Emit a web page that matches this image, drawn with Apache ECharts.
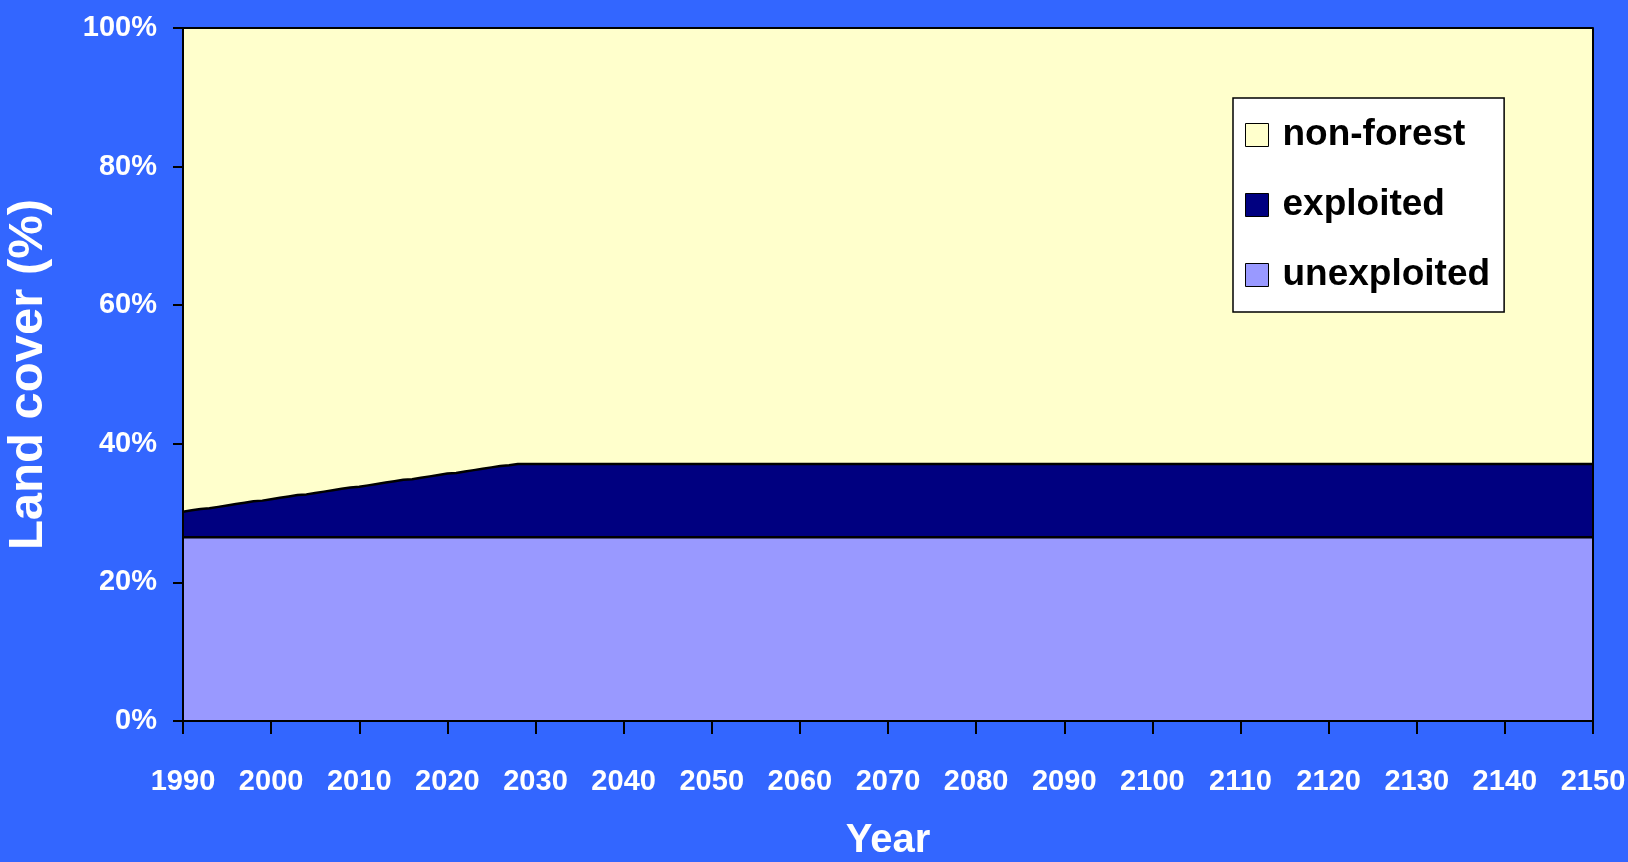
<!DOCTYPE html>
<html>
<head>
<meta charset="utf-8">
<script src="https://cdn.jsdelivr.net/npm/echarts@6/dist/echarts.min.js"></script>
<style>
    html, body { margin: 0; padding: 0; background: #3366ff; }
    #chart { width: 1628px; height: 862px; }
</style>
</head>
<body>
<div id="chart"></div>
<script>

// years sampled, yearly until the exploited share stops growing
const years = [
    1990, 1991, 1992, 1993, 1994, 1995, 1996, 1997, 1998, 1999,
    2000, 2001, 2002, 2003, 2004, 2005, 2006, 2007, 2008, 2009,
    2010, 2011, 2012, 2013, 2014, 2015, 2016, 2017, 2018, 2019,
    2020, 2021, 2022, 2023, 2024, 2025, 2026, 2027, 2028, 2150
];

const unexploited = [
    26.5, 26.5, 26.5, 26.5, 26.5, 26.5, 26.5, 26.5, 26.5, 26.5,
    26.5, 26.5, 26.5, 26.5, 26.5, 26.5, 26.5, 26.5, 26.5, 26.5,
    26.5, 26.5, 26.5, 26.5, 26.5, 26.5, 26.5, 26.5, 26.5, 26.5,
    26.5, 26.5, 26.5, 26.5, 26.5, 26.5, 26.5, 26.5, 26.5, 26.5
];

const exploited = [
    3.7, 3.9, 4.1, 4.2, 4.4, 4.6, 4.8, 5.0, 5.2, 5.3,
    5.5, 5.7, 5.9, 6.1, 6.2, 6.4, 6.6, 6.8, 7.0, 7.2,
    7.3, 7.5, 7.7, 7.9, 8.1, 8.3, 8.4, 8.6, 8.8, 9.0,
    9.2, 9.3, 9.5, 9.7, 9.9, 10.1, 10.3, 10.4, 10.6, 10.6
];

const yearTicks = [1990, 2150, 10];

const chart = echarts.init(document.getElementById('chart'));

// areas are layered instead of stacked: each top is the running total
const exploitedTop = years.map((_, i) => +(unexploited[i] + exploited[i]).toFixed(1));
const nonForestTop = years.map(() => 100);
const pairs = arr => years.map((y, i) => [y, arr[i]]);

const labelFont = {
    color: '#ffffff',
    fontFamily: '"Liberation Sans", Arial, sans-serif',
    fontWeight: 'bold',
    fontSize: 29
};

const option = {
    backgroundColor: '#3366ff',
    animation: false,
    grid: {
        left: 183,
        right: 35,
        top: 28,
        bottom: 141,
        outerBoundsMode: 'none',
        containLabel: false,
        show: false
    },
    legend: {
        orient: 'vertical',
        left: 1233,
        top: 98,
        data: ['non-forest', 'exploited', 'unexploited'],
        icon: 'rect',
        itemWidth: 23,
        itemHeight: 23,
        itemGap: 24,
        padding: [14, 14, 14, 12],
        backgroundColor: '#ffffff',
        borderColor: '#000000',
        borderWidth: 1.5,
        itemStyle: {
            borderColor: '#000000',
            borderWidth: 1
        },
        textStyle: {
            color: '#000000',
            fontFamily: '"Liberation Sans", Arial, sans-serif',
            fontWeight: 'bold',
            fontSize: 37,
            lineHeight: 46,
            padding: [0, 0, 0, 9]
        }
    },
    xAxis: [
        {
            type: 'value',
            min: yearTicks[0],
            max: yearTicks[1],
            interval: yearTicks[2],
            z: 10,
            name: 'Year',
            nameLocation: 'middle',
            nameGap: 100,
            nameTextStyle: {
                color: '#ffffff',
                fontFamily: '"Liberation Sans", Arial, sans-serif',
                fontWeight: 'bold',
                fontSize: 40
            },
            axisLine: { lineStyle: { color: '#000000', width: 2 } },
            axisTick: { length: 13, lineStyle: { color: '#000000', width: 2 } },
            axisLabel: Object.assign({ margin: 46, formatter: v => String(v) }, labelFont),
            splitLine: { show: false }
        },
        {
            type: 'value',
            position: 'top',
            min: yearTicks[0],
            max: yearTicks[1],
            z: 10,
            axisLine: { lineStyle: { color: '#000000', width: 2 } },
            axisTick: { show: false },
            axisLabel: { show: false },
            splitLine: { show: false }
        }
    ],
    yAxis: [
        {
            type: 'value',
            min: 0,
            max: 100,
            interval: 20,
            z: 10,
            name: 'Land cover (%)',
            nameLocation: 'middle',
            nameRotate: 90,
            nameGap: 130,
            nameTextStyle: {
                color: '#ffffff',
                fontFamily: '"Liberation Sans", Arial, sans-serif',
                fontWeight: 'bold',
                fontSize: 49
            },
            axisLine: { show: true, lineStyle: { color: '#000000', width: 2 } },
            axisTick: { show: true, length: 10, lineStyle: { color: '#000000', width: 2 } },
            axisLabel: Object.assign({ margin: 26, formatter: '{value}%' }, labelFont),
            splitLine: { show: false }
        },
        {
            type: 'value',
            position: 'right',
            min: 0,
            max: 100,
            z: 10,
            axisLine: { show: true, lineStyle: { color: '#000000', width: 2 } },
            axisTick: { show: false },
            axisLabel: { show: false },
            splitLine: { show: false }
        }
    ],
    series: [
        {
            name: 'non-forest',
            type: 'line',
            showSymbol: false,
            lineStyle: { color: '#000000', width: 2 },
            itemStyle: { color: '#ffffcc' },
            areaStyle: { color: '#ffffcc', opacity: 1 },
            data: pairs(nonForestTop)
        },
        {
            name: 'exploited',
            type: 'line',
            showSymbol: false,
            lineStyle: { color: '#000000', width: 2.5 },
            itemStyle: { color: '#000080' },
            areaStyle: { color: '#000080', opacity: 1 },
            data: pairs(exploitedTop)
        },
        {
            name: 'unexploited',
            type: 'line',
            showSymbol: false,
            lineStyle: { color: '#000000', width: 2.5 },
            itemStyle: { color: '#9999ff' },
            areaStyle: { color: '#9999ff', opacity: 1 },
            data: pairs(unexploited)
        }
    ]
};

option && chart.setOption(option);

</script>
</body>
</html>
